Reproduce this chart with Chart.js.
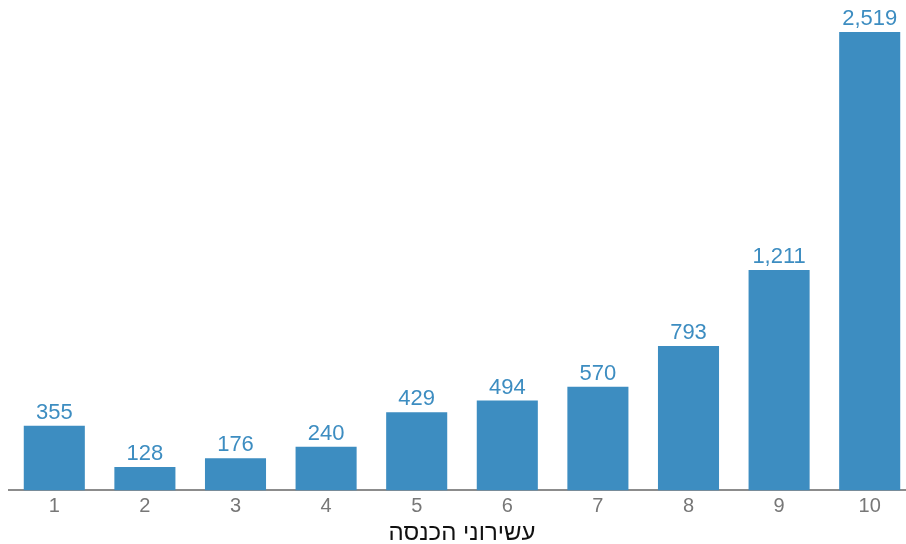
<!DOCTYPE html>
<html>
<head>
<meta charset="utf-8">
<script src="https://cdn.jsdelivr.net/npm/chart.js@4"></script>
<style>
  html, body { margin: 0; padding: 0; background: #fff; overflow: hidden; }
  #wrap { position: relative; width: 915px; height: 544px; }
</style>
</head>
<body>
<div id="wrap"><canvas id="c"></canvas></div>
<script>
const categories = ['1','2','3','4','5','6','7','8','9','10'];
const values = [355, 128, 176, 240, 429, 494, 570, 793, 1211, 2519];
const axisTitle = 'עשירוני הכנסה';

const barColor = '#3d8dc1';

const valueLabels = {
  id: 'valueLabels',
  afterDatasetsDraw(chart) {
    const ctx = chart.ctx;
    const meta = chart.getDatasetMeta(0);
    ctx.save();
    ctx.font = '22px "Liberation Sans", Arial, sans-serif';
    ctx.fillStyle = barColor;
    ctx.textAlign = 'center';
    ctx.textBaseline = 'alphabetic';
    meta.data.forEach((bar, i) => {
      ctx.fillText(values[i].toLocaleString('en-US'), bar.x, bar.y - 7);
    });
    ctx.restore();
  }
};

new Chart(document.getElementById('c'), {
  type: 'bar',
  data: {
    labels: categories,
    datasets: [{
      data: values,
      backgroundColor: barColor,
      borderWidth: 0,
      barPercentage: 0.674,
      categoryPercentage: 1.0
    }]
  },
  options: {
    responsive: true,
    maintainAspectRatio: false,
    animation: false,
    layout: { padding: { left: 9, right: 0, top: 0, bottom: 0 } },
    plugins: { legend: { display: false }, tooltip: { enabled: false } },
    scales: {
      x: {
        grid: { display: false, drawTicks: false },
        border: { display: true, color: '#8c8c8c', width: 2 },
        ticks: {
          color: '#777777',
          padding: 6,
          font: { family: '"Liberation Sans", Arial, sans-serif', size: 20, lineHeight: 1.0 }
        },
        title: {
          display: true,
          text: axisTitle,
          color: '#111111',
          padding: { top: 0, bottom: 0 },
          font: { family: '"Liberation Sans", Arial, sans-serif', size: 24, lineHeight: 0.9 }
        }
      },
      y: {
        display: false,
        min: 0,
        max: 2695
      }
    }
  },
  plugins: [valueLabels]
});
</script>
</body>
</html>
